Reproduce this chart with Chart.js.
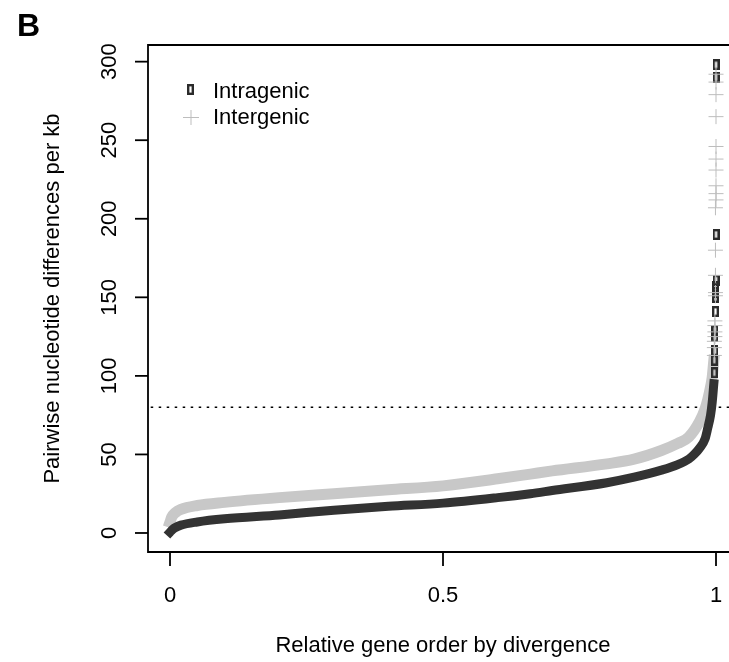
<!DOCTYPE html>
<html>
<head>
<meta charset="utf-8">
<script src="https://cdn.jsdelivr.net/npm/chart.js@4"></script>
<style>
  body { margin: 0; background: #fff; overflow: hidden; }
</style>
</head>
<body>
<canvas id="chart" width="729" height="662"></canvas>
<script>
// sorted divergence curves (x = relative order, y = diffs per kb)
const intraX = [0, 0.004, 0.01, 0.02, 0.05, 0.1, 0.2, 0.3, 0.4, 0.5, 0.6, 0.66, 0.7, 0.8, 0.85, 0.9, 0.93, 0.95, 0.96, 0.97, 0.98, 0.985, 0.99, 0.993, 0.996];
const intraY = [0.5, 2, 3.5, 5, 7, 9, 11.5, 14.5, 17, 19, 22.5, 25, 27, 32, 35.5, 40, 43.5, 47, 50, 54, 60, 67, 75, 83, 95];
const interX = [0, 0.003, 0.01, 0.02, 0.05, 0.1, 0.2, 0.3, 0.4, 0.5, 0.6, 0.66, 0.7, 0.8, 0.85, 0.9, 0.93, 0.95, 0.97, 0.98, 0.985, 0.99, 0.993, 0.996];
const interY = [7, 10, 13, 15, 17.5, 19.5, 22.5, 25, 27.5, 30, 34.5, 37.5, 39.5, 44, 47, 52.5, 57, 61, 71, 79, 85, 93, 99, 110];

// the scattered outliers at the top end
const intraTailX = [0.997, 0.997, 0.998, 0.998, 0.998, 0.999, 0.999, 0.999, 0.999, 1.0, 1.0, 1.0, 1.0];
const intraTailY = [102, 110, 116, 125, 129, 141, 150, 153, 157, 161, 190, 290, 298];
const interTailX = [0.997, 0.997, 0.997, 0.998, 0.998, 0.998, 0.998, 0.999, 0.999, 0.999, 0.999, 0.999, 1.0, 1.0, 1.0, 1.0, 1.0, 1.0, 1.0, 1.0, 1.0, 1.0];
const interTailY = [113, 118, 122, 125, 128, 132, 135, 151, 153, 164, 180, 207, 212, 216, 221, 231, 238, 246, 265, 279, 287, 292];

const cutoff = 80;

const xTicks = [0, 0.5, 1];
const xTickLabels = ["0", "0.5", "1"];
const yTicks = [0, 50, 100, 150, 200, 250, 300];
const yTickLabels = ["0", "50", "100", "150", "200", "250", "300"];

const seriesNames = ["Intragenic", "Intergenic"];
const darkCol = "#333333";
const lightCol = "#c8c8c8";

const FONT = '"Liberation Sans", Arial, sans-serif';

const toPoints = (xs, ys) => xs.map((x, i) => ({ x: x, y: ys[i] }));

// hollow narrow box, like R's pch 0 here
const boxMark = document.createElement("canvas");
boxMark.width = 7;
boxMark.height = 11;
(() => {
  const c = boxMark.getContext("2d");
  c.strokeStyle = "#2b2b2b";
  c.lineWidth = 2.4;
  c.strokeRect(1.2, 1.2, 4.6, 8.6);
})();

const rAxes = {
  id: "rAxes",
  afterDraw(chart) {
    const ctx = chart.ctx;
    const a = chart.chartArea;
    const x = chart.scales.x;
    const y = chart.scales.y;
    ctx.save();
    ctx.strokeStyle = "#000";
    ctx.fillStyle = "#000";
    ctx.lineWidth = 1.8;

    // box (right side is cut off in the original)
    ctx.beginPath();
    ctx.moveTo(a.right + 2, a.top);
    ctx.lineTo(a.left, a.top);
    ctx.lineTo(a.left, a.bottom);
    ctx.lineTo(a.right + 2, a.bottom);
    ctx.stroke();

    ctx.font = "22px " + FONT;
    ctx.textAlign = "center";

    // x axis
    for (let i = 0; i < xTicks.length; i++) {
      const px = x.getPixelForValue(xTicks[i]);
      ctx.beginPath();
      ctx.moveTo(px, a.bottom);
      ctx.lineTo(px, a.bottom + 14);
      ctx.stroke();
      ctx.fillText(xTickLabels[i], px, 602);
    }

    // y axis, labels turned like R does
    for (let i = 0; i < yTicks.length; i++) {
      const py = y.getPixelForValue(yTicks[i]);
      ctx.beginPath();
      ctx.moveTo(a.left, py);
      ctx.lineTo(a.left - 13, py);
      ctx.stroke();
      ctx.save();
      ctx.translate(116, py);
      ctx.rotate(-Math.PI / 2);
      ctx.fillText(yTickLabels[i], 0, 0);
      ctx.restore();
    }

    ctx.fillText("Relative gene order by divergence", 443, 652);
    ctx.save();
    ctx.translate(59, (a.top + a.bottom) / 2);
    ctx.rotate(-Math.PI / 2);
    ctx.fillText("Pairwise nucleotide differences per kb", 0, 0);
    ctx.restore();

    // legend
    ctx.textAlign = "left";
    ctx.drawImage(boxMark, 187, 84);
    ctx.fillText(seriesNames[0], 213, 98);
    ctx.strokeStyle = "#bdbdbd";
    ctx.lineWidth = 1;
    ctx.beginPath();
    ctx.moveTo(183, 117.5);
    ctx.lineTo(199, 117.5);
    ctx.moveTo(191, 110);
    ctx.lineTo(191, 125);
    ctx.stroke();
    ctx.fillText(seriesNames[1], 213, 124);

    // panel letter
    ctx.font = "bold 32px " + FONT;
    ctx.fillText("B", 17, 36);
    ctx.restore();
  },
};

new Chart(document.getElementById("chart"), {
  type: "scatter",
  data: {
    datasets: [
      {
        data: toPoints(interTailX, interTailY),
        pointStyle: "cross",
        radius: 7.5,
        borderColor: "#bdbdbd",
        borderWidth: 1,
        order: 1,
      },
      {
        data: toPoints(intraTailX, intraTailY),
        pointStyle: boxMark,
        order: 2,
      },
      {
        data: toPoints(intraX, intraY),
        showLine: true,
        borderColor: darkCol,
        borderWidth: 9,
        borderCapStyle: "square",
        cubicInterpolationMode: "monotone",
        pointRadius: 0,
        order: 3,
      },
      {
        data: toPoints(interX, interY),
        showLine: true,
        borderColor: lightCol,
        borderWidth: 11,
        borderCapStyle: "square",
        cubicInterpolationMode: "monotone",
        pointRadius: 0,
        order: 4,
      },
      {
        data: [{ x: -0.05, y: cutoff }, { x: 1.05, y: cutoff }],
        showLine: true,
        borderColor: "#000",
        borderWidth: 1.6,
        borderDash: [2.5, 5.5],
        pointRadius: 0,
        order: 5,
      },
    ],
  },
  options: {
    responsive: false,
    animation: false,
    events: [],
    layout: { autoPadding: false, padding: { left: 148, top: 45, right: 0, bottom: 110 } },
    scales: {
      x: { type: "linear", min: -0.0403, max: 1.0238, display: false },
      y: { type: "linear", min: -12.1, max: 310.6, display: false },
    },
    plugins: {
      legend: { display: false },
      tooltip: { enabled: false },
    },
  },
  plugins: [rAxes],
});
</script>
</body>
</html>
